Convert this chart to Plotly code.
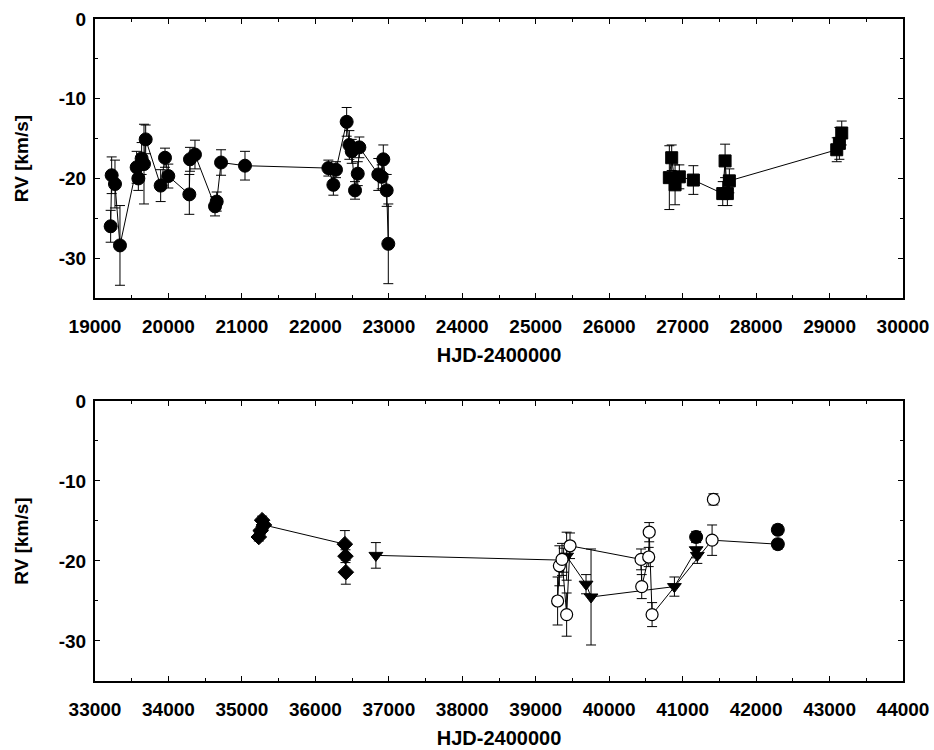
import plotly.graph_objects as go

# ---------------- data ----------------
# Top panel: filled circles
top_circ_x = [19213, 19227, 19272, 19340, 19567, 19590, 19635, 19667, 19690, 19894,
              19953, 19998, 20284, 20293, 20361, 20634, 20657, 20716, 21042, 22177,
              22245, 22281, 22426, 22463, 22495, 22540, 22577, 22599, 22857, 22903,
              22925, 22971, 22993]
top_circ_y = [-26.0, -19.6, -20.7, -28.4, -18.6, -20.0, -17.5, -18.2, -15.1, -20.9,
              -17.4, -19.7, -22.0, -17.6, -17.0, -23.5, -22.9, -18.0, -18.4, -18.7,
              -20.8, -18.9, -12.9, -15.8, -16.6, -21.5, -19.4, -16.1, -19.5, -19.8,
              -17.6, -21.5, -28.2]
top_circ_err = [2.0, 2.3, 3.0, 5.0, 2.0, 1.5, 2.0, 5.0, 1.8, 2.0,
                1.2, 1.5, 2.5, 1.5, 1.8, 1.2, 1.2, 1.6, 1.8, 1.0,
                1.3, 1.0, 1.8, 1.8, 1.5, 1.1, 1.5, 1.3, 2.0, 1.5,
                1.8, 2.0, 5.0]

# Top panel: filled squares
top_sq_x = [26819, 26851, 26897, 26955, 27146, 27546, 27578, 27609, 27636, 29098, 29134, 29166]
top_sq_y = [-19.9, -17.4, -20.8, -19.8, -20.2, -21.9, -17.8, -21.9, -20.3, -16.4, -15.6, -14.3]
top_sq_err = [4.0, 1.6, 2.5, 1.5, 1.8, 1.5, 2.1, 1.5, 1.5, 1.5, 2.0, 1.5]

# Bottom panel: filled diamonds
dia_x = [35230, 35255, 35275, 35300, 36402, 36410, 36415]
dia_y = [-17.0, -16.2, -14.9, -15.5, -17.9, -19.4, -21.4]
dia_err = [0.5, 0.5, 0.5, 0.5, 1.7, 0.8, 1.5]

# Bottom panel: filled down-triangles
tri_x = [36824, 39380, 39421, 39685, 39753, 40888, 41184, 41200]
tri_y = [-19.3, -19.9, -19.4, -22.9, -24.5, -23.2, -18.6, -19.3]
tri_err = [1.6, 1.5, 3.0, 1.2, 6.0, 1.2, 1.0, 1.0]

# Bottom panel: open circles
oc_x = [39298, 39322, 39358, 39421, 39467, 40434, 40443, 40538, 40545, 40584, 41401, 41419]
oc_y = [-25.0, -20.6, -19.8, -26.7, -18.1, -19.8, -23.2, -19.5, -16.4, -26.7, -17.4, -12.3]
oc_err = [3.0, 2.5, 2.0, 2.7, 1.6, 1.3, 1.5, 1.2, 1.2, 1.5, 1.9, 0.7]
oc_on_line = [True, True, True, True, True, True, True, True, True, True, True, False]

# Bottom panel: filled circles
fc_x = [41184, 42296, 42296]
fc_y = [-17.0, -16.1, -17.9]
fc_err = [0.7, 0.6, 0.6]
fc_line_end = 2  # filled circle that the open-circle line runs to

top_xticks = list(range(19000, 30001, 1000))
bot_xticks = list(range(33000, 44001, 1000))
y_ticks = [0, -10, -20, -30]

# ---------------- figure ----------------
fig = go.Figure()
BLACK = "black"


def add_series(x, y, err, symbol, size, xa, ya, filled=True, line=True):
    if line:
        fig.add_trace(go.Scatter(x=x, y=y, mode="lines", xaxis=xa, yaxis=ya,
                                 line=dict(color=BLACK, width=1), showlegend=False,
                                 hoverinfo="skip"))
    fig.add_trace(go.Scatter(
        x=x, y=y, mode="markers", xaxis=xa, yaxis=ya, showlegend=False,
        marker=dict(symbol=symbol, size=size,
                    color=BLACK if filled else "white",
                    line=dict(color=BLACK, width=1 if filled else 1.2)),
        error_y=dict(type="data", array=err, visible=True, color=BLACK,
                     thickness=1, width=5)))


# top panel
add_series(top_circ_x, top_circ_y, top_circ_err, "circle", 13, "x", "y")
add_series(top_sq_x, top_sq_y, top_sq_err, "square", 12, "x", "y")

# bottom panel
add_series(dia_x, dia_y, dia_err, "diamond", 12, "x2", "y2")
add_series(tri_x, tri_y, tri_err, "triangle-down", 12, "x2", "y2")
line_x = [xv for xv, on in zip(oc_x, oc_on_line) if on] + [fc_x[fc_line_end]]
line_y = [yv for yv, on in zip(oc_y, oc_on_line) if on] + [fc_y[fc_line_end]]
fig.add_trace(go.Scatter(x=line_x, y=line_y, mode="lines", xaxis="x2", yaxis="y2",
                         line=dict(color=BLACK, width=1), showlegend=False))
add_series(oc_x, oc_y, oc_err, "circle", 12, "x2", "y2", filled=False, line=False)
add_series(fc_x, fc_y, fc_err, "circle", 13, "x2", "y2", line=False)

FONT = dict(family="Liberation Sans, Arial, sans-serif", size=19, color=BLACK, weight="bold")


def xaxis(rng, ticks, anchor):
    return dict(range=rng, tickmode="array", tickvals=ticks, ticktext=[str(t) for t in ticks],
                ticks="inside", ticklen=5, tickwidth=1.2, tickcolor=BLACK,
                minor=dict(dtick=500, tick0=rng[0], ticks="inside", ticklen=3,
                           tickwidth=1, tickcolor=BLACK),
                showline=True, linewidth=2, linecolor=BLACK, mirror="allticks",
                showgrid=False, zeroline=False, anchor=anchor, automargin=False,
                ticklabelstandoff=10, ticklabeloverflow="allow",
                title=dict(text="HJD-2400000", font=dict(size=20), standoff=12),
                tickfont=FONT)


def yaxis(domain, anchor):
    return dict(range=[-35, 0], domain=domain, tickmode="array", tickvals=y_ticks,
                ticktext=[str(t) for t in y_ticks],
                ticks="inside", ticklen=5, tickwidth=1.2, tickcolor=BLACK,
                minor=dict(dtick=5, tick0=0, ticks="inside", ticklen=3,
                           tickwidth=1, tickcolor=BLACK),
                showline=True, linewidth=2, linecolor=BLACK, mirror="allticks",
                showgrid=False, zeroline=False, anchor=anchor, automargin=False,
                ticklabelstandoff=3, ticklabeloverflow="allow",
                title=dict(text="RV [km/s]", font=dict(size=19), standoff=25),
                tickfont=FONT)


fig.update_layout(
    width=934, height=750,
    margin=dict(l=95, r=31, t=19, b=69, autoexpand=False),
    paper_bgcolor="white", plot_bgcolor="white",
    font=FONT,
    xaxis=xaxis([19000, 30000], top_xticks, "y"),
    yaxis=yaxis([0.5785, 1.0], "x"),
    xaxis2=xaxis([33000, 44000], bot_xticks, "y2"),
    yaxis2=yaxis([0.0, 0.423], "x2"),
    showlegend=False,
)

# remove the default 8 px page margin so the figure fills the window exactly
fig.write_html("out.html",
               config={"displayModeBar": False},
               post_script="document.body.style.margin='0px';"
                           "document.body.style.overflow='hidden';")
